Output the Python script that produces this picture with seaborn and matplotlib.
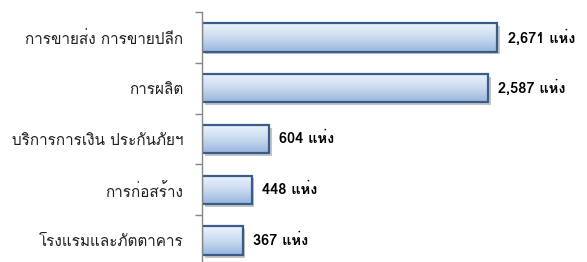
import numpy as np
import pandas as pd
import matplotlib
matplotlib.use("Agg")
import matplotlib.pyplot as plt
import matplotlib.patheffects as pe
from matplotlib.patches import Rectangle
from matplotlib import font_manager
import seaborn as sns

# ── Datos ─────────────────────────────────────────────────────────────────────
categorias = ["การขายส่ง การขายปลีก", "การผลิต", "บริการการเงิน ประกันภัยฯ",
              "การก่อสร้าง", "โรงแรมและภัตตาคาร"]
valores = [2671, 2587, 604, 448, 367]
unidad = "แห่ง"


def fuente_tailandesa():
    """Busca una fuente instalada que tenga glifos tailandeses."""
    try:
        from fontTools.ttLib import TTFont
    except ImportError:
        return None
    vistos = set()
    for f in font_manager.fontManager.ttflist:
        if f.name in vistos:
            continue
        vistos.add(f.name)
        try:
            cmap = TTFont(f.fname, fontNumber=0, lazy=True).getBestCmap()
            if cmap and 0x0E01 in cmap and 0x0E48 in cmap:
                return f.name
        except Exception:
            pass
    return None


sns.set_theme(style="white")
thai = fuente_tailandesa()
plt.rcParams["font.family"] = ([thai] if thai else []) + ["DejaVu Sans"]

df = pd.DataFrame({"cat": categorias, "val": valores})

fig = plt.figure(figsize=(5.87, 2.62), dpi=100)
ax = fig.add_axes([202 / 587, -4 / 262, 385 / 587, 254 / 262])

sns.barplot(data=df, x="val", y="cat", orient="h", width=0.56,
            color="#B9CDE5", edgecolor="none", linewidth=0, ax=ax)

# degradado + sombra + borde en cada barra
grad = np.linspace(0, 1, 64).reshape(-1, 1)
cmap = matplotlib.colors.LinearSegmentedColormap.from_list(
    "bevel", ["#EDF3FA", "#CADBF0", "#98B6DC"])
for p in list(ax.patches):
    x0, y0 = p.get_x(), p.get_y()
    w, h = p.get_width(), p.get_height()
    z = p.get_zorder()
    p.set_path_effects([pe.SimplePatchShadow(offset=(2, -2), shadow_rgbFace="#7F7F7F",
                                             alpha=0.45), pe.Normal()])
    im = ax.imshow(grad, cmap=cmap, aspect="auto", interpolation="bicubic",
                   extent=(x0, x0 + w, y0 + h, y0), zorder=z + 0.1)
    im.set_clip_path(p)
    borde = Rectangle((x0, y0), w, h, facecolor="none", edgecolor="#385D8A",
                      linewidth=1.6, zorder=z + 0.2)
    ax.add_patch(borde)

for i, v in enumerate(valores):
    ax.text(v + 95, i, f"{v:,} {unidad}", va="center", ha="left",
            fontsize=10.5, fontweight="bold", color="black")

ax.set_xlim(0, 3484)
ax.set_ylim(len(categorias) - 0.5, -0.5)
ax.set_xlabel("")
ax.set_ylabel("")
ax.set_xticks([])
ax.set_yticks(range(len(categorias)))
ax.set_yticklabels(categorias, fontsize=11, color="#222222")
ax.set_yticks(np.arange(-0.5, len(categorias)), minor=True)
ax.tick_params(axis="y", which="major", length=0, pad=13.5)
ax.tick_params(axis="y", which="minor", length=5, width=1, color="#868686",
               direction="out", left=True)

for s in ["top", "right", "bottom"]:
    ax.spines[s].set_visible(False)
ax.spines["left"].set_color("#868686")
ax.spines["left"].set_linewidth(1)

fig.savefig("out.png", dpi=100)
